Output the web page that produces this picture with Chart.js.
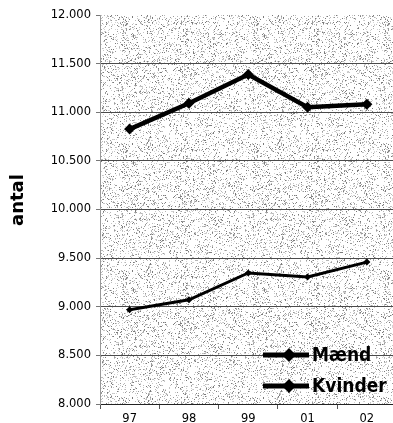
<!DOCTYPE html>
<html>
<head>
<meta charset="utf-8">
<script src="https://cdn.jsdelivr.net/npm/chart.js@4/dist/chart.umd.min.js"></script>
<style>
  html, body { margin: 0; padding: 0; background: #fff; overflow: hidden; }
  #wrap { width: 393px; height: 423px; overflow: hidden; }
</style>
</head>
<body>
<div id="wrap"><canvas id="chart" width="402" height="423"></canvas></div>
<script>
(function () {
  "use strict";

  var years = ["97", "98", "99", "01", "02"];
  var maend = [10827, 11092, 11388, 11051, 11082];
  var kvinder = [8969, 9071, 9347, 9306, 9459];
  var yTicks = [8000, 8500, 9000, 9500, 10000, 10500, 11000, 11500, 12000];
  var seriesNames = ["Mænd", "Kvinder"];

  function fmt(v) {
    var k = Math.floor(v / 1000);
    var r = String(v % 1000);
    while (r.length < 3) r = "0" + r;
    return k + "." + r;
  }

  // murmur3 finaliser, only used for the stipple texture
  function hash(n) {
    n = n >>> 0;
    n ^= n >>> 16;
    n = Math.imul(n, 0x85ebca6b) >>> 0;
    n ^= n >>> 13;
    n = Math.imul(n, 0xc2b2ae35) >>> 0;
    n ^= n >>> 16;
    return n >>> 0;
  }

  // stippled plot background, like the old Excel fill
  function stipple() {
    var c = document.createElement("canvas");
    c.width = 131;
    c.height = 127;
    var g = c.getContext("2d");
    g.fillStyle = "#ffffff";
    g.fillRect(0, 0, c.width, c.height);
    var shades = ["#d4d4d4", "#b8b8b8", "#9a9a9a", "#7a7a7a", "#c6c6c6"];
    for (var y = 0; y < c.height; y++) {
      for (var x = 0; x < c.width; x++) {
        var h = hash(y * 1000 + x + 7919);
        if ((h % 1000) < 190) {
          g.fillStyle = shades[(h >>> 12) % shades.length];
          g.fillRect(x, y, 1, 1);
        }
      }
    }
    return c;
  }

  var bgPlugin = {
    id: "plotBg",
    beforeDraw: function (chart) {
      var a = chart.chartArea;
      var ctx = chart.ctx;
      ctx.save();
      ctx.fillStyle = ctx.createPattern(stipple(), "repeat");
      ctx.fillRect(a.left, a.top, a.right - a.left, a.bottom - a.top);
      ctx.restore();
    }
  };

  var extrasPlugin = {
    id: "extras",
    afterDraw: function (chart) {
      var ctx = chart.ctx;
      ctx.save();
      // y axis title
      ctx.translate(18, 200);
      ctx.rotate(-Math.PI / 2);
      ctx.fillStyle = "#000";
      ctx.font = "bold 18px 'DejaVu Sans', sans-serif";
      ctx.textAlign = "center";
      ctx.textBaseline = "middle";
      ctx.fillText("antal", 0, 0);
      ctx.restore();

      // legend inside plot, bottom right
      var rows = [355, 386];
      chart.data.datasets.forEach(function (ds, i) {
        var y = rows[i];
        ctx.save();
        ctx.strokeStyle = "#000";
        ctx.lineWidth = 5;
        ctx.beginPath();
        ctx.moveTo(263, y);
        ctx.lineTo(309, y);
        ctx.stroke();
        ctx.fillStyle = "#000";
        ctx.beginPath();
        ctx.moveTo(289, y - 7);
        ctx.lineTo(296, y);
        ctx.lineTo(289, y + 7);
        ctx.lineTo(282, y);
        ctx.closePath();
        ctx.fill();
        ctx.font = "bold 19px 'DejaVu Sans Condensed', 'DejaVu Sans', sans-serif";
        ctx.textBaseline = "middle";
        ctx.fillText(ds.label, 312, y + 1);
        ctx.restore();
      });
    }
  };

  var tickFont = { family: "'DejaVu Sans', sans-serif", size: 11.5 };

  new Chart(document.getElementById("chart"), {
    type: "line",
    data: {
      labels: years,
      datasets: [
        {
          label: seriesNames[0],
          data: maend,
          borderColor: "#000",
          backgroundColor: "#000",
          borderWidth: 4.5,
          pointStyle: "rectRot",
          pointRadius: 5.5,
          pointBorderWidth: 0,
          tension: 0
        },
        {
          label: seriesNames[1],
          data: kvinder,
          borderColor: "#000",
          backgroundColor: "#000",
          borderWidth: 3,
          pointStyle: "rectRot",
          pointRadius: 3.5,
          pointBorderWidth: 0,
          tension: 0
        }
      ]
    },
    options: {
      responsive: false,
      animation: false,
      layout: { padding: { top: 15, right: 0, left: 0, bottom: 0 } },
      plugins: {
        legend: { display: false },
        tooltip: { enabled: false }
      },
      scales: {
        x: {
          offset: true,
          grid: {
            offset: true,
            drawOnChartArea: false,
            drawTicks: true,
            tickLength: 5,
            tickColor: "#555"
          },
          border: { color: "#222", width: 1 },
          ticks: { color: "#000", font: tickFont, padding: 3, maxRotation: 0 },
          afterFit: function (s) { s.height = 19; }
        },
        y: {
          min: 8000,
          max: 12000,
          afterBuildTicks: function (s) {
            s.ticks = yTicks.map(function (v) { return { value: v }; });
          },
          grid: {
            color: function (c) {
              return c.tick && c.tick.value === 12000 ? "rgba(0,0,0,0)" : "#4a4a4a";
            },
            lineWidth: 1,
            tickLength: 4,
            tickColor: "#777"
          },
          border: { color: "#999", width: 1 },
          ticks: {
            color: "#000",
            font: tickFont,
            padding: 5,
            callback: function (v) { return fmt(v); }
          },
          afterFit: function (s) { s.width = 100; }
        }
      }
    },
    plugins: [bgPlugin, extrasPlugin]
  });
})();
</script>
</body>
</html>
